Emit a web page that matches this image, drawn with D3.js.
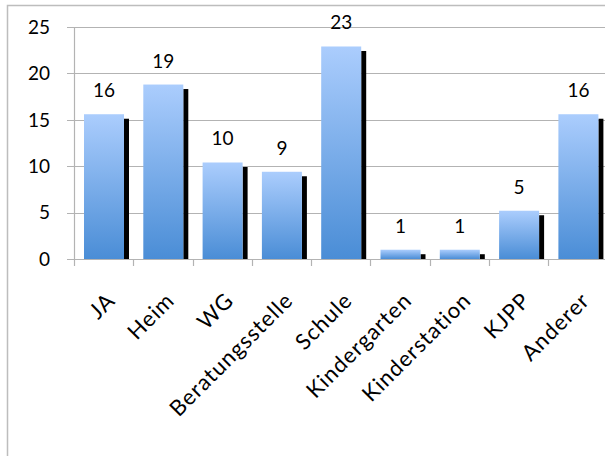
<!DOCTYPE html>
<html>
<head>
<meta charset="utf-8">
<script src="https://cdn.jsdelivr.net/npm/d3@7"></script>
<style>
  html, body { margin: 0; padding: 0; background: #fff; }
  svg { display: block; }
  text { font-family: Lato, "Open Sans", sans-serif; fill: #000; }
</style>
</head>
<body>
<svg id="chart" width="605" height="456"></svg>
<script>
// Anteile in Prozent je Einrichtung
const categories = ["JA", "Heim", "WG", "Beratungsstelle", "Schule", "Kindergarten", "Kinderstation", "KJPP", "Anderer"];
const values = [15.6, 18.8, 10.4, 9.4, 22.9, 1.0, 1.0, 5.2, 15.6];
const yTicks = [0, 5, 10, 15, 20, 25];

const svg = d3.select("#chart");
const W = 605, H = 456;

svg.append("rect").attr("width", W).attr("height", H).attr("fill", "#fff");

// chart frame
svg.append("rect")
  .attr("x", 7.5).attr("y", 5.5)
  .attr("width", 640).attr("height", 500)
  .attr("fill", "none")
  .attr("stroke", "#bdbdbd")
  .attr("stroke-width", 1.5);

const plotLeft = 74, plotTop = 27, plotBottom = 259, band = 59.3;
const x = d3.scaleBand().domain(categories).range([plotLeft, plotLeft + band * categories.length]).paddingInner(0).paddingOuter(0);
const y = d3.scaleLinear().domain([0, 25]).range([plotBottom, plotTop]);

const defs = svg.append("defs");
const grad = defs.append("linearGradient").attr("id", "barGrad")
  .attr("x1", 0).attr("y1", 0).attr("x2", 0).attr("y2", 1);
grad.append("stop").attr("offset", "0%").attr("stop-color", "#abcdfd");
grad.append("stop").attr("offset", "100%").attr("stop-color", "#4a8dd6");

// horizontal gridlines with left tick stubs
svg.append("g").selectAll("line").data(yTicks).join("line")
  .attr("x1", plotLeft - 7).attr("x2", W)
  .attr("y1", d => Math.round(y(d)) + 0.5).attr("y2", d => Math.round(y(d)) + 0.5)
  .attr("stroke", "#b3b3b3").attr("stroke-width", 1.2);

// value axis line
svg.append("line")
  .attr("x1", plotLeft + 0.5).attr("x2", plotLeft + 0.5)
  .attr("y1", y(25)).attr("y2", plotBottom)
  .attr("stroke", "#b3b3b3").attr("stroke-width", 1.2);

// category tick marks at band boundaries
const bounds = categories.map(c => x(c)).concat([x.range()[1]]);
svg.append("g").selectAll("line").data(bounds).join("line")
  .attr("x1", d => Math.round(d) + 0.5).attr("x2", d => Math.round(d) + 0.5)
  .attr("y1", plotBottom).attr("y2", plotBottom + 7)
  .attr("stroke", "#b3b3b3").attr("stroke-width", 1.2);

// y tick labels
svg.append("g").selectAll("text").data(yTicks).join("text")
  .attr("x", 50).attr("y", d => y(d))
  .attr("dy", "0.36em")
  .attr("text-anchor", "end")
  .attr("font-size", 19)
  .text(d => d);

const barOff = 10, barW = 40, shW = 5, shDrop = 4.5;

// bar shadows
svg.append("g").selectAll("rect").data(values).join("rect")
  .attr("x", (d, i) => x(categories[i]) + barOff + barW)
  .attr("y", d => y(d) + shDrop)
  .attr("width", shW)
  .attr("height", d => plotBottom - y(d) - shDrop)
  .attr("fill", "#000");

// bars
svg.append("g").selectAll("rect").data(values).join("rect")
  .attr("x", (d, i) => x(categories[i]) + barOff)
  .attr("y", d => y(d))
  .attr("width", barW)
  .attr("height", d => plotBottom - y(d))
  .attr("fill", "url(#barGrad)");

// data labels
const fmt = d3.format(".0f");
svg.append("g").selectAll("text").data(values).join("text")
  .attr("x", (d, i) => x(categories[i]) + barOff + barW / 2)
  .attr("y", d => y(d) - 17)
  .attr("text-anchor", "middle")
  .attr("font-size", 19)
  .text(d => fmt(d));

// rotated category labels
svg.append("g").selectAll("text").data(categories).join("text")
  .attr("transform", d => `translate(${x(d) + x.bandwidth() / 2 + 2},${291}) rotate(-45)`)
  .attr("dy", "0.7em")
  .attr("text-anchor", "end")
  .attr("font-size", 22)
  .attr("letter-spacing", 1)
  .text(d => d);
</script>
</body>
</html>
